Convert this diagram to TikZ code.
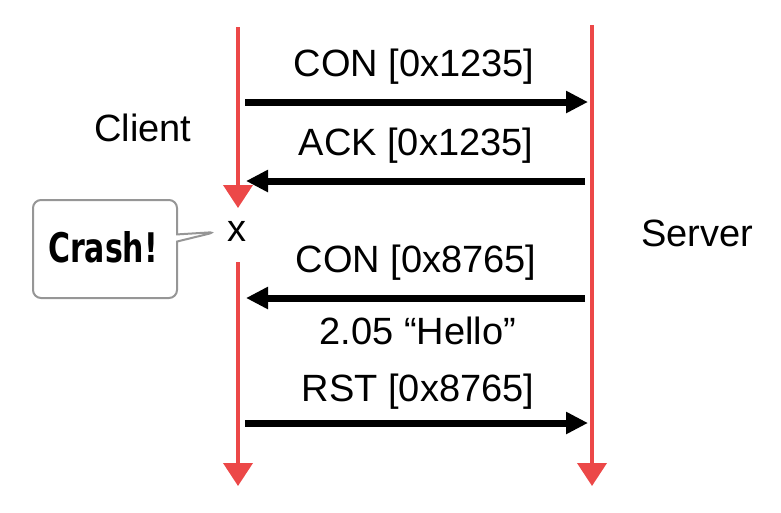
\documentclass[tikz,border=0pt]{standalone}
\usepackage{fontspec}
\setmainfont{Liberation Sans}
\newfontfamily\crashfont{DejaVu Sans Condensed}[BoldFont={DejaVu Sans Condensed Bold}]
\usetikzlibrary{arrows.meta,shapes.callouts}
\definecolor{lifered}{RGB}{236,72,72}
\definecolor{calloutgray}{RGB}{150,150,150}
\tikzset{
  lifeline/.style={draw=lifered,line width=4pt,-{Triangle[length=23pt,width=29pt]}},
  msg/.style={draw=black,line width=7pt,-{Triangle[length=22pt,width=21pt]}},
  lbl/.style={font=\fontsize{38}{40}\selectfont,inner sep=0pt},
}
\begin{document}
\begin{tikzpicture}[x=1pt,y=-1pt]
\useasboundingbox (0,0) rectangle (781,512);
% lifeline coordinates
\coordinate (ctop) at (238,27);
\coordinate (cmid) at (238,208);
\coordinate (cresume) at (238,262);
\coordinate (cend) at (238,486);
\coordinate (stop) at (592,25);
\coordinate (send) at (592,486);
\draw[lifeline] (ctop) -- (cmid);
\draw[lifeline] (cresume) -- (cend);
\draw[lifeline] (stop) -- (send);
% message endpoints
\coordinate (m1a) at (245,102);  \coordinate (m1b) at (588,102);
\coordinate (m2a) at (585,181);  \coordinate (m2b) at (246,181);
\coordinate (m3a) at (585,298);  \coordinate (m3b) at (246,298);
\coordinate (m4a) at (245,423);  \coordinate (m4b) at (588,423);
\draw[msg] (m1a) -- (m1b);
\draw[msg] (m2a) -- (m2b);
\draw[msg] (m3a) -- (m3b);
\draw[msg] (m4a) -- (m4b);
% labels
\node[lbl] (l1) at (414,67) {CON [0x1235]};
\node[lbl] (l2) at (416,146) {ACK [0x1235]};
\node[lbl] (l3) at (416,263) {CON [0x8765]};
\node[lbl] (l4) at (418,331) {2.05 “Hello”};
\node[lbl] (l5) at (418,392) {RST [0x8765]};
\node[lbl] (client) at (143,128) {Client};
\node[lbl] (server) at (697,233) {Server};
\node[lbl] (x) at (237,231) {x};
% callout
\node[rectangle callout,draw=calloutgray,line width=2pt,rounded corners=8pt,
      minimum width=144pt,minimum height=98pt,inner sep=0pt,
      callout absolute pointer={(216,232)}] (crash) at (105,249) {};
\node[inner sep=0pt] (crashtext) at (103,247)
  {\crashfont\bfseries\fontsize{34}{36}\selectfont\scalebox{0.98}[1.2]{Crash!}};
\end{tikzpicture}
\end{document}
